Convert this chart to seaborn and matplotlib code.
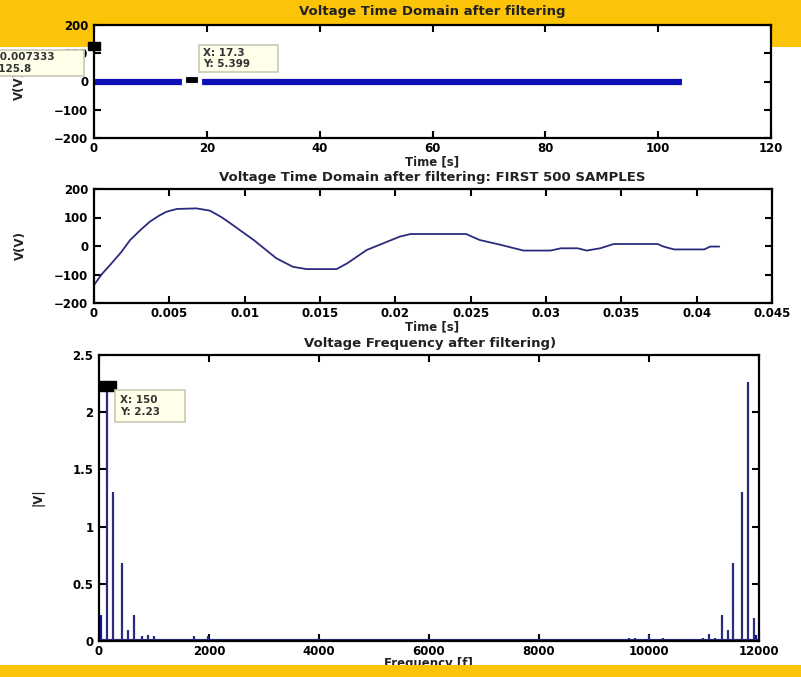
import matplotlib
matplotlib.use("Agg")
import matplotlib.pyplot as plt
import seaborn as sns
import pandas as pd
from matplotlib.patches import Rectangle

# === DATA ===
# top panel: full filtered record (drawn as a flat band around 0)
t_full = [0.0, 104.2]
v_full = [0.0, 0.0]
tip_a = (0.007333, 125.8)
tip_b = (17.3, 5.399)

# middle panel: first 500 samples
t_first = [0, 0.0005, 0.00106, 0.0018, 0.0024, 0.0031, 0.0037, 0.0043, 0.0048, 0.0055,
           0.0068, 0.0077, 0.0085, 0.0092, 0.0106, 0.0121, 0.0132, 0.0141, 0.0161, 0.0168,
           0.0181, 0.0203, 0.021, 0.0247, 0.0256, 0.027, 0.0285, 0.0303, 0.031, 0.0321,
           0.0327, 0.0336, 0.0345, 0.0374, 0.0378, 0.0385, 0.0405, 0.0409, 0.0415]
v_first = [-137, -100, -67, -22, 21, 57, 85, 106, 120, 130,
           132, 124, 100, 74, 21, -43, -73, -81, -81, -61,
           -14, 33, 42, 42, 21, 4, -16, -16, -8, -8,
           -16, -8, 7, 7, -2, -12, -12, -2, -2]

# bottom panel: spectrum peaks
freq = [151, 260, 413, 522, 636, 776, 896, 1000, 1158, 1261, 1364, 1733, 1988, 2109,
        2200, 2321, 2564, 3764, 3988, 6018, 7982, 9400, 9521, 9642, 9745, 9885, 10006,
        10261, 10624, 10745, 10867, 10988, 11097, 11200, 11322, 11431, 11533, 11685,
        11805, 11909]
mag = [2.23, 1.30, 0.68, 0.10, 0.23, 0.04, 0.05, 0.04, 0.02, 0.02, 0.02, 0.04, 0.04, 0.02,
       0.02, 0.02, 0.01, 0.01, 0.01, 0.01, 0.01, 0.02, 0.02, 0.03, 0.03, 0.02, 0.05,
       0.03, 0.02, 0.02, 0.02, 0.03, 0.06, 0.03, 0.23, 0.10, 0.68, 1.30,
       2.26, 0.20]
freq_edge = [42, 11940]
mag_edge = [0.23, 0.05]
freq_floor = [0, 12000]
mag_floor = [0.0, 0.0]
tip_c = (150, 2.23)

YELLOW = "#FBC408"
NAVY = "#2B2B7E"
BLUE = "#1010B8"
W, H = 801, 677


def fx(x):
    return x / W


def fy(y):
    return 1 - y / H


sns.set_theme(style="ticks")
plt.rcParams["font.family"] = ["DejaVu Sans"]
plt.rcParams["font.weight"] = "bold"
plt.rcParams["xtick.direction"] = "in"
plt.rcParams["ytick.direction"] = "in"

fig = plt.figure(figsize=(W / 100, H / 100), dpi=100, facecolor="white")

# yellow bands
fig.add_artist(Rectangle((0, fy(47)), 1, 47 / H, transform=fig.transFigure,
                         facecolor=YELLOW, edgecolor="none", zorder=-5))
fig.add_artist(Rectangle((0, 0), 1, fy(665), transform=fig.transFigure,
                         facecolor=YELLOW, edgecolor="none", zorder=10))


def make_ax(x0, x1, y0, y1):
    ax = fig.add_axes([fx(x0), fy(y1), fx(x1) - fx(x0), (y1 - y0) / H])
    ax.set_facecolor("white")
    for s in ax.spines.values():
        s.set_color("black")
        s.set_linewidth(1.6)
    ax.tick_params(which="both", direction="in", length=5, width=1.5,
                   top=True, right=True, labelsize=8.5, pad=4, colors="black")
    ax.tick_params(axis="x", pad=3)
    return ax


def style_ticks(ax):
    for lab in ax.get_xticklabels() + ax.get_yticklabels():
        lab.set_fontweight("bold")


def datatip(x0, y0, x1, y1, lines, tx):
    fig.add_artist(Rectangle((fx(x0), fy(y1)), fx(x1) - fx(x0), (y1 - y0) / H,
                             transform=fig.transFigure, facecolor="#FFFFEA",
                             edgecolor="#C9C9B4", linewidth=1.2, zorder=6))
    fig.text(fx(tx), fy((y0 + y1) / 2), lines, fontsize=7.5, fontweight="bold",
             color="#333333", va="center", ha="left", linespacing=1.15, zorder=7)


sq = [(-1.0, -0.6), (1.0, -0.6), (1.0, 0.6), (-1.0, 0.6), (-1.0, -0.6)]

# === TOP PANEL ===
ax1 = make_ax(94, 771, 25, 138)
df1 = pd.DataFrame({"t": t_full, "v": v_full})
sns.lineplot(data=df1, x="t", y="v", ax=ax1, color=BLUE, linewidth=4.5,
             solid_capstyle="butt")
ax1.plot(*tip_b, marker=sq, ms=12, color="black", mec="white", mew=3, zorder=5)
ax1.plot(0, tip_a[1], marker=sq, ms=9, color="black", clip_on=False, zorder=5)
ax1.set_xlim(0, 120)
ax1.set_ylim(-200, 200)
ax1.set_xticks(range(0, 121, 20))
ax1.set_yticks([-200, -100, 0, 100, 200])
ax1.set_xlabel("")
ax1.set_ylabel("")
style_ticks(ax1)

# === MIDDLE PANEL ===
ax2 = make_ax(94, 772, 189, 303)
df2 = pd.DataFrame({"t": t_first, "v": v_first})
sns.lineplot(data=df2, x="t", y="v", ax=ax2, color=NAVY, linewidth=1.3,
             sort=False, estimator=None)
ax2.set_xlim(0, 0.045)
ax2.set_ylim(-200, 200)
ax2.set_xticks([0, 0.005, 0.01, 0.015, 0.02, 0.025, 0.03, 0.035, 0.04, 0.045])
ax2.set_xticklabels(["0", "0.005", "0.01", "0.015", "0.02", "0.025", "0.03",
                     "0.035", "0.04", "0.045"])
ax2.set_yticks([-200, -100, 0, 100, 200])
ax2.set_xlabel("")
ax2.set_ylabel("")
style_ticks(ax2)

# === BOTTOM PANEL ===
ax3 = make_ax(99, 759, 355, 641)
ax3.vlines(freq, 0, mag, color=NAVY, linewidth=1.6)
ax3.vlines(freq_edge, 0, mag_edge, color=BLUE, linewidth=1.6)
sns.lineplot(x=freq_floor, y=mag_floor, ax=ax3, color=NAVY, linewidth=3)
ax3.plot(*tip_c, marker=sq, ms=13, color="black", zorder=5)
ax3.set_xlim(0, 12000)
ax3.set_ylim(0, 2.5)
ax3.set_xticks(range(0, 12001, 2000))
ax3.set_yticks([0, 0.5, 1, 1.5, 2, 2.5])
ax3.set_yticklabels(["0", "0.5", "1", "1.5", "2", "2.5"])
ax3.set_xlabel("")
ax3.set_ylabel("")
style_ticks(ax3)

# === TITLES / LABELS ===
tkw = dict(fontsize=9.5, fontweight="bold", color="#222222", ha="center", va="center")
lkw = dict(fontsize=8.5, fontweight="bold", color="#222222", ha="center", va="center")
fig.text(fx(432), fy(12), "Voltage Time Domain after filtering", **tkw)
fig.text(fx(432), fy(178), "Voltage Time Domain after filtering: FIRST 500 SAMPLES", **tkw)
fig.text(fx(430), fy(343), "Voltage Frequency after filtering)", **tkw)
fig.text(fx(432), fy(162), "Time [s]", **lkw)
fig.text(fx(432), fy(327), "Time [s]", **lkw)
fig.text(fx(428), fy(663), "Frequency [f]", **lkw)
fig.text(fx(19), fy(86), "V(V)", rotation=90, **lkw)
fig.text(fx(20), fy(246), "V(V)", rotation=90, **lkw)
fig.text(fx(38), fy(497), "|V|", rotation=90, **lkw)

# === DATATIPS ===
datatip(-30, 50, 84, 76, "X: 0.007333\nY: 125.8", -16)
datatip(199, 45, 278, 72, "X: 17.3\nY: 5.399", 203)
datatip(115, 390, 185, 422, "X: 150\nY: 2.23", 120)

plt.savefig("out.png", dpi=100, facecolor="white")
plt.close()
